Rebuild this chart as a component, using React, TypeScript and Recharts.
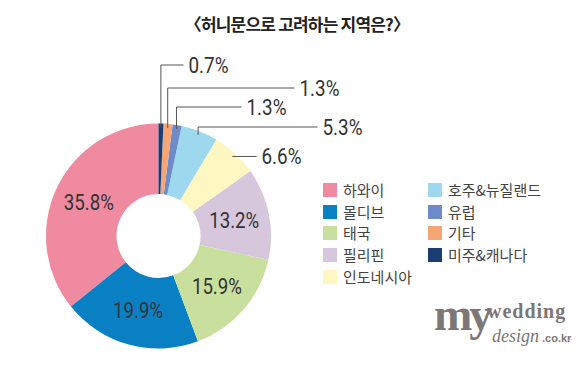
import React from "react";
import { PieChart, Pie, Cell, Legend } from "recharts";

const regions = [
  "하와이",
  "몰디브",
  "태국",
  "필리핀",
  "인도네시아",
  "호주&뉴질랜드",
  "유럽",
  "기타",
  "미주&캐나다",
];
const shares = [35.8, 19.9, 15.9, 13.2, 6.6, 5.3, 1.3, 1.3, 0.7];
const colors = [
  "#EF8AA0",
  "#0A80C4",
  "#C9DF9D",
  "#D7C7DC",
  "#FEF7C1",
  "#9DD8EE",
  "#6C8BC8",
  "#F6A574",
  "#1B3E72",
];

const data = regions.map((name, i) => ({ name, value: shares[i] }));

// thin slices get a leader line: elbow height (dy) and line end (dx), from the centre
const leaders: Record<number, { dy: number | null; dx: number }> = {
  4: { dy: null, dx: 98 },
  5: { dy: -109, dx: 159 },
  6: { dy: -129, dx: 83 },
  7: { dy: -148, dx: 136 },
  8: { dy: -171, dx: 25 },
};

const RAD = Math.PI / 180;
const numFont = "'Roboto', sans-serif";
const krFont = "'Noto Sans CJK KR', sans-serif";

// the original uses a condensed face, so squeeze the numbers a bit
const pctText = (x: number, y: number, text: string, anchor: string) => (
  <text
    x={x}
    y={y}
    textAnchor={anchor}
    dominantBaseline="central"
    fill="#333"
    fontSize={22}
    fontFamily={numFont}
    textLength={text.length * 10}
    lengthAdjust="spacingAndGlyphs"
  >
    {text}
  </text>
);

const renderLabel = (props: any) => {
  const { cx, cy, midAngle, innerRadius, outerRadius, index } = props;
  const text = `${shares[index].toFixed(1)}%`;
  const lead = leaders[index];
  if (!lead) {
    const r = (innerRadius + outerRadius) / 2;
    const x = cx + r * Math.cos(-midAngle * RAD);
    const y = cy + r * Math.sin(-midAngle * RAD);
    return pctText(x, y, text, "middle");
  }
  const ax = cx + (outerRadius - 4) * Math.cos(-midAngle * RAD);
  const ay = cy + (outerRadius - 4) * Math.sin(-midAngle * RAD);
  const ey = lead.dy == null ? ay : cy + lead.dy;
  const ex = cx + lead.dx;
  return (
    <g>
      <polyline
        points={`${ax},${ay} ${ax},${ey} ${ex},${ey}`}
        fill="none"
        stroke="#555"
        strokeWidth={1}
      />
      {pctText(ex + 5, ey, text, "start")}
    </g>
  );
};

const LegendBox = () => (
  <div
    style={{
      display: "grid",
      gridAutoFlow: "column",
      gridTemplateColumns: "105px 140px",
      gridTemplateRows: "repeat(5, 21.7px)",
      fontFamily: krFont,
      fontSize: 15,
      color: "#444",
    }}
  >
    {regions.map((name, i) => (
      <div key={name} style={{ display: "flex", alignItems: "center" }}>
        <span
          style={{
            width: 14,
            height: 14,
            background: colors[i],
            marginRight: 6,
            display: "inline-block",
          }}
        />
        <span style={{ lineHeight: "21.7px", whiteSpace: "nowrap" }}>{name}</span>
      </div>
    ))}
  </div>
);

export default function App() {
  return (
    <div
      style={{
        position: "absolute",
        left: 0,
        top: 0,
        width: 585,
        height: 368,
        background: "#fff",
      }}
    >
      <PieChart width={585} height={368} margin={{ top: 0, right: 0, bottom: 0, left: 0 }}>
        <Pie
          data={data}
          dataKey="value"
          nameKey="name"
          cx={158.5}
          cy={236}
          innerRadius={42}
          outerRadius={112.5}
          startAngle={90}
          endAngle={450}
          stroke="none"
          label={renderLabel}
          labelLine={false}
          isAnimationActive={false}
        >
          {data.map((entry, index) => (
            <Cell key={`cell-${index}`} fill={colors[index]} />
          ))}
        </Pie>
        <Legend
          content={() => <LegendBox />}
          wrapperStyle={{ left: 323, top: 179, width: 250, bottom: "auto" }}
        />
      </PieChart>
      <svg
        width={585}
        height={368}
        style={{ position: "absolute", left: 0, top: 0, pointerEvents: "none" }}
      >
        <text
          x={297}
          y={23}
          textAnchor="middle"
          dominantBaseline="central"
          fontFamily={krFont}
          fontWeight={700}
          fontSize={17}
          letterSpacing={-0.8}
          fill="#222"
        >
          〈허니문으로 고려하는 지역은?〉
        </text>
        <g fill="#7d7676">
          <text
            x={434}
            y={330}
            fontFamily="'Liberation Serif', serif"
            fontWeight={700}
            fontSize={46}
            letterSpacing={-3}
          >
            my
          </text>
          <text
            x={487}
            y={318}
            fontFamily="'Liberation Serif', serif"
            fontWeight={700}
            fontSize={20}
            letterSpacing={1}
          >
            wedding
          </text>
          <text
            x={492}
            y={342}
            fontFamily="'Liberation Serif', serif"
            fontStyle="italic"
            fontSize={18}
          >
            design
          </text>
          <text
            x={542}
            y={342}
            fontFamily="'Liberation Sans', sans-serif"
            fontWeight={700}
            fontSize={11}
          >
            .co.kr
          </text>
        </g>
      </svg>
    </div>
  );
}
